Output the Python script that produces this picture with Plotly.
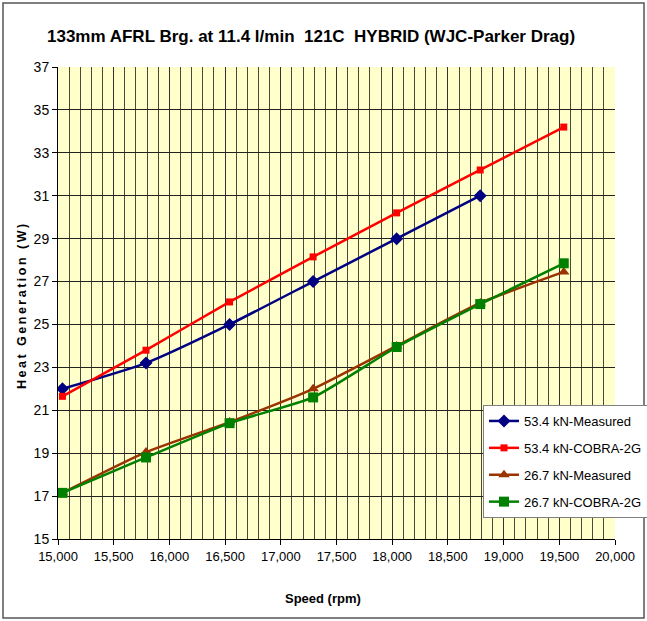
import plotly.graph_objects as go

# Shaft speed (rpm) for each test point
speed = [15040, 15790, 16540, 17290, 18040, 18790, 19540]

# Heat generation (W)
load534_measured = [22.0, 23.2, 25.0, 27.0, 29.0, 31.0]
load534_cobra = [21.65, 23.8, 26.05, 28.15, 30.2, 32.2, 34.2]
load267_measured = [17.15, 19.05, 20.45, 22.0, 24.0, 26.0, 27.45]
load267_cobra = [17.15, 18.8, 20.4, 21.6, 23.95, 25.95, 27.85]

series_names = ["53.4 kN-Measured", "53.4 kN-COBRA-2G", "26.7 kN-Measured", "26.7 kN-COBRA-2G"]

x_ticks = list(range(15000, 20001, 500))
x_tick_text = [f"{v:,}" for v in x_ticks]
y_ticks = list(range(15, 38, 2))

W, H = 647, 621
L, R, T, B = 58, 32, 67, 82
PW, PH = W - L - R, H - T - B
FONT = "Liberation Sans Narrow, Arial Narrow, Liberation Sans, Arial, sans-serif"


def px_x(p):
    return (p - L) / PW


def px_y(p):
    return (H - B - p) / PH


fig = go.Figure()

styles = [
    (load534_measured, "#000080", "diamond", 10),
    (load534_cobra, "#FF0000", "square", 7),
    (load267_measured, "#993300", "triangle-up", 10),
    (load267_cobra, "#008000", "square", 10),
]
for i, (vals, color, symbol, size) in enumerate(styles):
    fig.add_trace(go.Scatter(
        x=speed[:len(vals)], y=vals, name=series_names[i],
        mode="lines+markers", legendgroup=f"g{i}",
        line=dict(color=color, width=2.5, shape="spline", smoothing=0.5),
        marker=dict(color=color, symbol=symbol, size=size),
    ))

fig.update_layout(
    width=W, height=H,
    margin=dict(l=L, r=R, t=T, b=B, autoexpand=False),
    paper_bgcolor="white",
    plot_bgcolor="#FFFFCC",
    font=dict(family=FONT, color="black", size=13),
    showlegend=True,
    legend=dict(
        x=px_x(483), y=px_y(405),
        xanchor="left", yanchor="top",
        bgcolor="white", bordercolor="#808080", borderwidth=1,
        font=dict(family=FONT, size=13),
        traceorder="grouped", tracegroupgap=7,
        itemwidth=30,
    ),
    xaxis=dict(
        range=[15000, 20000], tickvals=x_ticks, ticktext=x_tick_text,
        ticks="outside", ticklen=5, tickcolor="black",
        showline=True, linecolor="black", linewidth=1,
        showgrid=True, gridcolor="#333333", gridwidth=1,
        minor=dict(dtick=100, showgrid=True, gridcolor="#4a4936", gridwidth=1),
        tickfont=dict(family=FONT, size=13), zeroline=False,
    ),
    yaxis=dict(
        range=[15, 37], tickvals=y_ticks,
        ticks="outside", ticklen=5, tickcolor="black",
        showline=True, linecolor="black", linewidth=1,
        showgrid=True, gridcolor="#222222", gridwidth=1,
        tickfont=dict(family=FONT, size=14), zeroline=False,
    ),
)

# Chart title and axis titles
fig.add_annotation(
    text="<b>133mm AFRL Brg. at 11.4 l/min  121C  HYBRID (WJC-Parker Drag)</b>",
    xref="paper", yref="paper", x=px_x(311), y=px_y(37),
    xanchor="center", yanchor="middle", showarrow=False,
    font=dict(family=FONT, size=17, color="black"),
)
fig.add_annotation(
    text="<b>Speed (rpm)</b>",
    xref="paper", yref="paper", x=px_x(323), y=px_y(598),
    xanchor="center", yanchor="middle", showarrow=False,
    font=dict(family=FONT, size=13, color="black"),
)
fig.add_annotation(
    text="<b>" + "\u2009".join("Heat Generation (W)") + "</b>",
    xref="paper", yref="paper", x=px_x(22), y=px_y(307),
    xanchor="center", yanchor="middle", showarrow=False, textangle=-90,
    font=dict(family="Liberation Sans, Arial, sans-serif", size=12.5, color="black"),
)

# Outer chart frame
fig.add_shape(
    type="rect", xref="paper", yref="paper",
    x0=px_x(3), x1=px_x(644), y0=px_y(618), y1=px_y(3),
    line=dict(color="#555555", width=1.5), layer="below",
)

fig.write_html("out.html")
